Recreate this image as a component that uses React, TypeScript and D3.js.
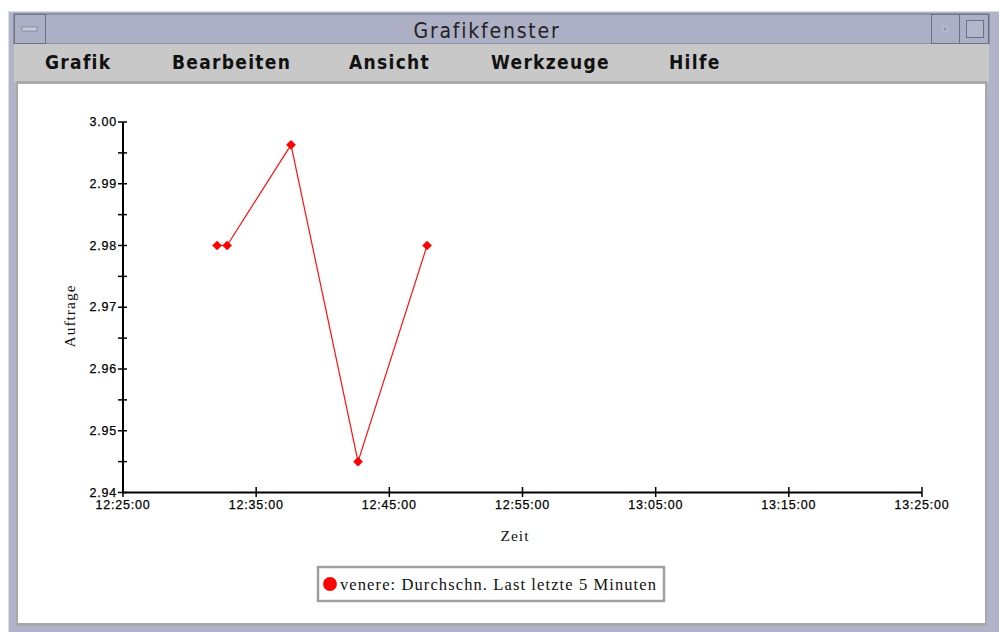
import React, { useEffect, useRef } from "react";
import * as d3 from "d3";

const times = ["12:32:04", "12:32:49", "12:37:37", "12:42:39", "12:47:50"];
const values = [2.98, 2.98, 2.9963, 2.945, 2.98];
const xTickLabels = ["12:25:00", "12:35:00", "12:45:00", "12:55:00", "13:05:00", "13:15:00", "13:25:00"];
const yTicks = [2.94, 2.95, 2.96, 2.97, 2.98, 2.99, 3.0];
const menuItems = ["Grafik", "Bearbeiten", "Ansicht", "Werkzeuge", "Hilfe"];
const menuX = [45, 172, 349, 491, 669];
const windowTitle = "Grafikfenster";
const xTitle = "Zeit";
const yTitle = "Auftrage";
const legendLabel = "venere:  Durchschn. Last letzte 5 Minuten";

const parse = d3.timeParse("%H:%M:%S");

export default function App() {
  const ref = useRef<SVGSVGElement>(null);
  useEffect(() => {
    const svg = d3.select(ref.current);
    svg.selectAll("*").remove();
    const W = 999, H = 632;
    const frame = "#b1b4c8";
    const dark = "#6e7085";
    const light = "#dcdde8";

    // outer window frame
    svg.append("rect").attr("x", 0).attr("y", 0).attr("width", W).attr("height", H).attr("fill", "#fff");
    svg.append("rect").attr("x", 8).attr("y", 11).attr("width", W - 8).attr("height", H - 11).attr("fill", frame);
    svg.append("line").attr("x1", 8).attr("y1", 11.5).attr("x2", W).attr("y2", 11.5).attr("stroke", light);
    svg.append("line").attr("x1", 8.5).attr("y1", 11).attr("x2", 8.5).attr("y2", H).attr("stroke", light);
    // title bar
    svg.append("rect").attr("x", 14).attr("y", 14).attr("width", W - 24).attr("height", 30).attr("fill", "#adb0c4").attr("stroke", dark).attr("stroke-width", 1);
    // left button
    svg.append("rect").attr("x", 14.5).attr("y", 14.5).attr("width", 31).attr("height", 29).attr("fill", "#adb0c4").attr("stroke", dark);
    svg.append("rect").attr("x", 22).attr("y", 27).attr("width", 15).attr("height", 4).attr("fill", "#c9cbd8").attr("stroke", dark).attr("stroke-width", 0.6);
    // right buttons
    svg.append("rect").attr("x", 931.5).attr("y", 14.5).attr("width", 28).attr("height", 29).attr("fill", "#adb0c4").attr("stroke", dark);
    svg.append("rect").attr("x", 943).attr("y", 27).attr("width", 4).attr("height", 4).attr("fill", "#8d8fa3").attr("stroke", "#e0e0ea").attr("stroke-width", 0.6);
    svg.append("rect").attr("x", 959.5).attr("y", 14.5).attr("width", 29).attr("height", 29).attr("fill", "#adb0c4").attr("stroke", dark);
    svg.append("rect").attr("x", 966.5).attr("y", 20.5).attr("width", 17).attr("height", 17).attr("fill", "#b4b7ca").attr("stroke", dark);
    svg.append("text").attr("x", 487).attr("y", 38).attr("text-anchor", "middle")
      .attr("font-family", "DejaVu Sans Condensed, DejaVu Sans").attr("font-stretch", "condensed")
      .attr("font-size", 21).attr("letter-spacing", 1.8).attr("font-weight", 300).attr("fill", "#222").text(windowTitle);

    // menu bar
    svg.append("rect").attr("x", 14).attr("y", 44).attr("width", W - 24).attr("height", 38).attr("fill", "#c8c8c8");
    menuItems.forEach((m, i) => {
      svg.append("text").attr("x", menuX[i]).attr("y", 69)
        .attr("font-family", "DejaVu Sans Condensed, DejaVu Sans").attr("font-stretch", "condensed")
        .attr("font-weight", "bold").attr("font-size", 19).attr("letter-spacing", 1.3).attr("fill", "#111").text(m);
    });

    // content area
    svg.append("rect").attr("x", 16).attr("y", 81).attr("width", W - 28).attr("height", H - 81 - 6).attr("fill", "#a8a8a8");
    svg.append("rect").attr("x", 18).attr("y", 84).attr("width", W - 32).attr("height", H - 84 - 9).attr("fill", "#ffffff");

    // scales
    const x = d3.scaleTime().domain([parse("12:25:00")!, parse("13:25:00")!]).range([123, 922]);
    const y = d3.scaleLinear().domain([2.94, 3.0]).range([492.5, 122]);

    const g = svg.append("g");
    // axes lines
    g.append("line").attr("x1", 123).attr("x2", 123).attr("y1", y(3.0)).attr("y2", y(2.94)).attr("stroke", "#000").attr("stroke-width", 2);
    g.append("line").attr("x1", 123).attr("x2", 922).attr("y1", y(2.94)).attr("y2", y(2.94)).attr("stroke", "#000").attr("stroke-width", 2);

    // y ticks
    const yMinor = d3.range(0, 13).map((i) => 2.94 + i * 0.005);
    yMinor.forEach((v) => {
      g.append("line").attr("x1", 118).attr("x2", 127).attr("y1", y(v)).attr("y2", y(v)).attr("stroke", "#000").attr("stroke-width", 1.5);
    });
    yTicks.forEach((v) => {
      g.append("text").attr("x", 117).attr("y", y(v) + 4).attr("text-anchor", "end")
        .attr("font-family", "Liberation Sans, Arial").attr("font-size", 12.5).attr("letter-spacing", 0.8)
        .attr("fill", "#000").attr("stroke", "#000").attr("stroke-width", 0.25).text(d3.format(".2f")(v));
    });
    // x ticks
    xTickLabels.forEach((t) => {
      const xv = x(parse(t)!);
      g.append("line").attr("x1", xv).attr("x2", xv).attr("y1", 487).attr("y2", 497).attr("stroke", "#000").attr("stroke-width", 1.5);
      g.append("text").attr("x", xv).attr("y", 509).attr("text-anchor", "middle")
        .attr("font-family", "Liberation Sans, Arial").attr("font-size", 12.5).attr("letter-spacing", 0.8)
        .attr("fill", "#000").attr("stroke", "#000").attr("stroke-width", 0.25).text(t);
    });

    // axis titles
    g.append("text").attr("x", 515).attr("y", 541).attr("text-anchor", "middle")
      .attr("font-family", "Liberation Serif, serif").attr("font-size", 15.5).attr("letter-spacing", 1).attr("fill", "#111").text(xTitle);
    g.append("text").attr("transform", "translate(75,316) rotate(-90)").attr("text-anchor", "middle")
      .attr("font-family", "Liberation Serif, serif").attr("font-size", 15.5).attr("letter-spacing", 1).attr("fill", "#111").text(yTitle);

    // line
    const pts = times.map((t, i) => [x(parse(t)!), y(values[i])] as [number, number]);
    g.append("path").attr("d", d3.line()(pts)).attr("fill", "none").attr("stroke", "#ff1010").attr("stroke-width", 1.2);
    const sym = d3.symbol().type(d3.symbolDiamond2).size(60);
    pts.forEach((p) => {
      g.append("path").attr("d", sym()).attr("transform", `translate(${p[0]},${p[1]})`).attr("fill", "#ff0000");
    });

    // legend
    svg.append("rect").attr("x", 318).attr("y", 567).attr("width", 346).attr("height", 34)
      .attr("fill", "#fff").attr("stroke", "#a0a0a0").attr("stroke-width", 2.5);
    svg.append("path").attr("d", d3.symbol().type(d3.symbolCircle).size(150)()).attr("transform", "translate(330,584)").attr("fill", "#ff0000");
    svg.append("text").attr("x", 340).attr("y", 590)
      .attr("font-family", "Liberation Serif, serif").attr("font-size", 16.5).attr("letter-spacing", 1.1).attr("fill", "#111").text(legendLabel);
  }, []);
  return (
    <div style={{ position: "absolute", left: 0, top: 0 }}>
      <svg ref={ref} width={999} height={632} />
    </div>
  );
}
